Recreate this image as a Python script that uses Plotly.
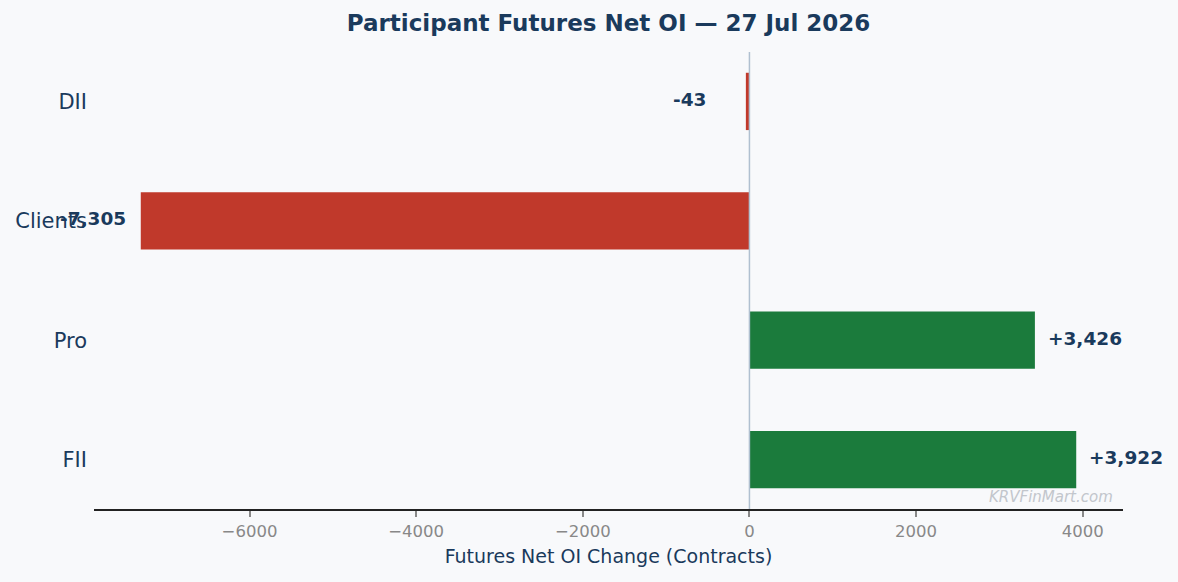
import plotly.graph_objects as go

# Участники и изменение чистого OI по фьючерсам
participants = ["FII", "Pro", "Clients", "DII"]
net_oi_change = [3922, 3426, -7305, -43]
value_labels = ["+3,922", "+3,426", "-7,305", "-43"]

title_text = "Participant Futures Net OI — 27 Jul 2026"
x_title = "Futures Net OI Change (Contracts)"
watermark = "KRVFinMart.com"

NAVY = "#1a3a5c"
GREEN = "#1b7b3c"
RED = "#c0392b"
BG = "#f8f9fb"
FONT = "DejaVu Sans"

colors = [GREEN if v >= 0 else RED for v in net_oi_change]

fig = go.Figure()
fig.add_trace(go.Bar(
    x=net_oi_change,
    y=participants,
    orientation="h",
    width=0.48,
    marker=dict(color=colors, line=dict(width=0)),
    hoverinfo="x+y",
    showlegend=False,
))

# подписи значений у концов столбцов
for p, v, lbl in zip(participants, net_oi_change, value_labels):
    if v >= 0:
        shift, anchor = 11, "left"
    else:
        shift = -13 if abs(v) >= 500 else -38
        anchor = "right"
    fig.add_annotation(
        x=v, y=p, text=f"<b>{lbl}</b>", showarrow=False,
        xanchor=anchor, xshift=shift, yshift=2,
        font=dict(family=FONT, size=18.5, color=NAVY),
    )

# вертикальная линия нуля (поверх столбцов)
fig.add_shape(
    type="line", x0=0, x1=0, y0=0, y1=1, yref="paper",
    line=dict(color="#b0c0d0", width=1.5), layer="above",
)

fig.add_annotation(
    x=0.9925, y=0.003, xref="paper", yref="paper",
    xanchor="right", yanchor="bottom", showarrow=False,
    text=f"<i>{watermark}</i>",
    font=dict(family=FONT, size=15, color="#c2c6cc"),
)

lo, hi = min(net_oi_change), max(net_oi_change)
pad = 0.05 * (hi - lo)

fig.update_layout(
    width=1178, height=582,
    paper_bgcolor=BG, plot_bgcolor=BG,
    margin=dict(l=94, r=55, t=52, b=73),
    font=dict(family=FONT, color=NAVY),
    title=dict(
        text=f"<b>{title_text}</b>", x=0.5, xref="paper", xanchor="center",
        y=1 - 23 / 582, yref="container", yanchor="middle",
        font=dict(family=FONT, size=23, color=NAVY),
    ),
    xaxis=dict(
        range=[lo - pad, hi + pad],
        dtick=2000, tickformat="d",
        showgrid=False, zeroline=False,
        showline=True, linecolor="#222222", linewidth=2,
        ticks="outside", ticklen=6, tickwidth=1.5, tickcolor="#888888",
        tickfont=dict(family=FONT, size=16.5, color="#888888"),
        title=dict(text=x_title, standoff=10,
                   font=dict(family=FONT, size=19, color=NAVY)),
    ),
    yaxis=dict(
        type="category",
        range=[-0.414, 3.414],
        showgrid=False, zeroline=False, showline=False,
        ticks="", ticklabelstandoff=6,
        tickfont=dict(family=FONT, size=21, color=NAVY),
    ),
)

# убираем отступы страницы, чтобы график занимал всё окно
fig.write_html("out.html", config={"displayModeBar": False},
               post_script="document.body.style.margin='0';")
